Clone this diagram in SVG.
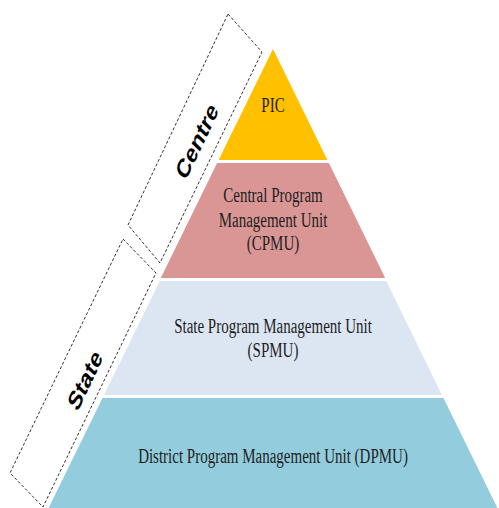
<svg xmlns="http://www.w3.org/2000/svg" width="499" height="508" viewBox="0 0 499 508">
<style>
.lbl{font-family:"Liberation Serif","Times New Roman",serif;font-size:15px;fill:#1e1e1e;text-anchor:middle}
.side{font-family:"Liberation Sans",Arial,sans-serif;font-size:19px;font-weight:bold;fill:#000;text-anchor:middle}
.box{fill:none;stroke:#333;stroke-width:1;stroke-dasharray:3 2}
</style>
<rect width="499" height="508" fill="#fff"/>
<g id="centre">
<polygon class="box" points="228,14 262,52 160,263 128,225"/>
<text class="side" transform="translate(197,141) scale(1,1.42) rotate(-56)" y="6.5">Centre</text>
</g>
<g id="state">
<polygon class="box" points="123,239 156,273 43,507 10,473"/>
<text class="side" transform="translate(85,380) scale(1,1.42) rotate(-56)" y="6.5">State</text>
</g>
<g id="pic">
<polygon points="273,49 327.4,160 218.6,160" fill="#FFC000"/>
<text class="lbl" transform="translate(273,112) scale(1,1.42)">PIC</text>
</g>
<g id="cpmu">
<polygon points="217.1,163 328.9,163 385.2,278 160.8,278" fill="#D99694"/>
<text class="lbl" transform="translate(273,202) scale(1,1.42)">Central Program</text>
<text class="lbl" transform="translate(273,227) scale(1,1.42)">Management Unit</text>
<text class="lbl" transform="translate(273,250) scale(1,1.42)">(CPMU)</text>
</g>
<g id="spmu">
<polygon points="159.8,281 386.2,281 442,395 104,395" fill="#DCE6F2"/>
<text class="lbl" transform="translate(273,333) scale(1,1.42)">State Program Management Unit</text>
<text class="lbl" transform="translate(273,357) scale(1,1.42)">(SPMU)</text>
</g>
<g id="dpmu">
<polygon points="102.5,398 443.5,398 497.4,508 48.6,508" fill="#93CDDD"/>
<text class="lbl" transform="translate(273,463) scale(1,1.42)">District Program Management Unit (DPMU)</text>
</g>
<g id="connectors"></g>
</svg>
